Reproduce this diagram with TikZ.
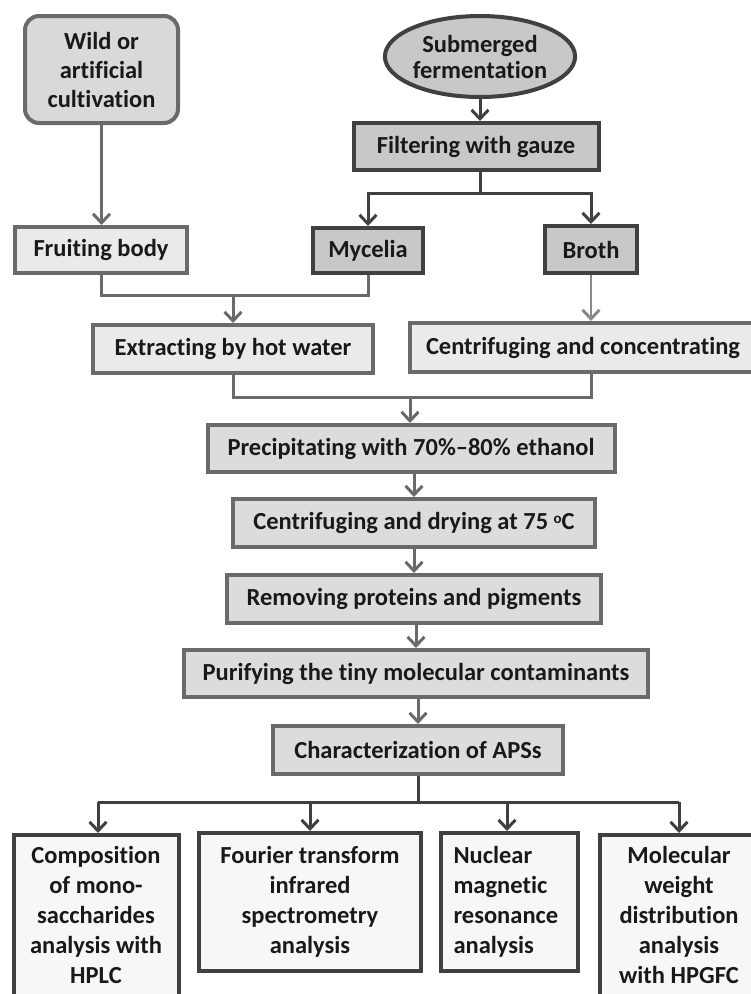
\documentclass[tikz,border=0pt]{standalone}
\usepackage{fontspec}
\setmainfont{Carlito}[Ligatures=NoCommon]
\usetikzlibrary{arrows.meta,shapes.geometric}
\definecolor{gline}{HTML}{6A6A6A}
\definecolor{dline}{HTML}{404040}
\definecolor{lline}{HTML}{8A8A8A}
\definecolor{fwild}{HTML}{D9D9D9}
\definecolor{fdark}{HTML}{C8C8C8}
\definecolor{fmid}{HTML}{DCDCDC}
\definecolor{flight}{HTML}{EAEAEA}
\definecolor{fpale}{HTML}{F7F7F7}
\begin{document}
\begin{tikzpicture}[x=1pt,y=-1pt,
  every node/.style={font=\fontsize{24.5}{29}\selectfont\bfseries, text=black!90},
  bottomtext/.style={font=\fontsize{24.5}{30}\selectfont\bfseries},
  graybox/.style={draw=gline, line width=4pt, rectangle, inner sep=0pt},
  darkbox/.style={draw=dline, line width=4pt, rectangle, inner sep=0pt},
  garrow/.style={draw=gline, line width=3pt, -{Straight Barb[length=9pt,width=17pt,line width=3pt]}},
  darrow/.style={draw=dline, line width=3pt, -{Straight Barb[length=9pt,width=17pt,line width=3pt]}},
  gconn/.style={draw=gline, line width=3pt},
  dconn/.style={draw=dline, line width=3pt},
  larrow/.style={draw=lline, line width=2.5pt, -{Straight Barb[length=9pt,width=17pt,line width=3pt]}}
]
\useasboundingbox (0,0) rectangle (751,994);
\clip (0,0) rectangle (751,994);

% top row
\node[graybox, fill=fwild, rounded corners=14pt, minimum width=153pt, minimum height=107pt, align=center] (wild) at (101.5,69.5) {Wild or\\artificial\\cultivation};
\node[draw=dline, line width=4pt, ellipse, fill=fdark, inner sep=0pt, minimum width=190pt, minimum height=81pt, align=center] (sub) at (480,56.5) {Submerged\\[-3pt]fermentation};
\node[darkbox, fill=fdark, minimum width=245pt, minimum height=47pt] (filt) at (476,146.5) {Filtering with gauze};

\node[graybox, fill=flight, minimum width=172pt, minimum height=46pt] (fruit) at (101,250) {Fruiting body};
\node[darkbox, fill=fdark, minimum width=110pt, minimum height=45pt] (myc) at (368,250.5) {Mycelia};
\node[darkbox, fill=fdark, minimum width=92pt, minimum height=47pt] (broth) at (591,249.5) {Broth};

\node[graybox, fill=flight, minimum width=280pt, minimum height=48pt] (extr) at (233,349) {Extracting by hot water};
\node[graybox, fill=flight, minimum width=360pt, minimum height=49pt, anchor=west] (cent) at (408,347.5) {\hspace*{-14pt}Centrifuging and concentrating};

\node[graybox, fill=fmid, minimum width=407pt, minimum height=47pt] (prec) at (411,448.5) {Precipitating with 70\%–80\% ethanol};
\node[graybox, fill=fmid, minimum width=362pt, minimum height=48pt] (dry) at (414,523) {Centrifuging and drying at 75 \raisebox{0.5ex}{\fontsize{15}{15}\selectfont o}C};
\node[graybox, fill=fmid, minimum width=374pt, minimum height=48pt] (rem) at (414,599) {Removing proteins and pigments};
\node[graybox, fill=fmid, minimum width=464pt, minimum height=47pt] (pur) at (416,673.5) {Purifying the tiny molecular contaminants};
\node[graybox, fill=fmid, minimum width=290pt, minimum height=48pt] (char) at (418,750) {Characterization of APSs};

% bottom boxes
\node[darkbox, fill=fpale, anchor=north, minimum width=165pt, minimum height=190pt] (comp) at (96,833) {};
\node[bottomtext, align=center, anchor=north] (compt) at (96,843) {Composition\\of mono-\\saccharides\\analysis with\\HPLC};
\node[darkbox, bottomtext, fill=fpale, minimum width=222pt, minimum height=138pt, align=center] (four) at (310,902) {Fourier transform\\infrared\\spectrometry\\analysis};
\node[darkbox, fill=fpale, minimum width=137pt, minimum height=138pt] (nuc) at (509.5,902) {};
\node[bottomtext, align=left, anchor=north west] (nuct) at (450,843) {Nuclear\\magnetic\\resonance\\analysis};
\node[darkbox, fill=fpale, anchor=north west, minimum width=170pt, minimum height=190pt] (mol) at (598,833) {};
\node[bottomtext, align=center, anchor=north] (molt) at (679,843) {Molecular\\weight\\distribution\\analysis\\with HPGFC};

% connectors
\draw[garrow] (wild.south) -- (wild.south |- fruit.north);
\draw[darrow] (sub.south -| 480,0) -- (480,0 |- filt.north);
\coordinate (fj) at (480,193);
\draw[dconn] (filt.south -| fj) -- (fj);
\draw[darrow] (fj) -| (myc.north);
\draw[darrow] (fj) -| (broth.north);

\coordinate (j1) at (233,295);
\draw[gconn] (fruit.south) |- (j1) -| (myc.south);
\draw[garrow] (j1) -- (j1 |- extr.north);
\draw[larrow] (broth.south) -- (broth.south |- cent.north);

\coordinate (j2) at (410,397);
\draw[gconn] (extr.south) |- (j2) -| (broth.south |- cent.south);
\draw[garrow] (j2) -- (j2 |- prec.north);

\draw[garrow] (414,0 |- prec.south) -- (414,0 |- dry.north);
\draw[garrow] (414,0 |- dry.south) -- (414,0 |- rem.north);
\draw[garrow] (416,0 |- rem.south) -- (416,0 |- pur.north);
\draw[garrow] (418,0 |- pur.south) -- (418,0 |- char.north);

\coordinate (j3) at (418,802);
\draw[dconn] (char.south) -- (j3);
\draw[dconn] (98,802) -- (679,802);
\draw[darrow] (98,802) -- (98,0 |- comp.north);
\draw[darrow] (310,802) -- (310,0 |- four.north);
\draw[darrow] (507,802) -- (507,0 |- nuc.north);
\draw[darrow] (679,802) -- (679,0 |- mol.north);
\end{tikzpicture}
\end{document}
